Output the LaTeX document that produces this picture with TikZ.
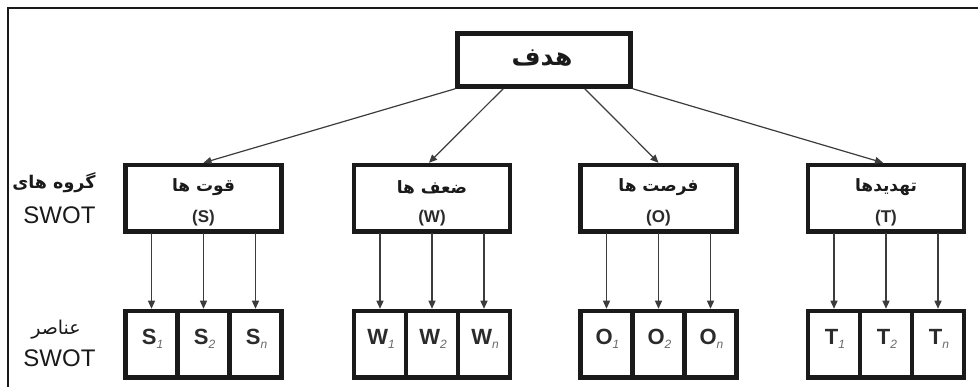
\documentclass[tikz,border=0pt]{standalone}
\usepackage{fontspec}
\setmainfont{Liberation Sans}
\newfontfamily\fa[Script=Arabic]{DejaVu Sans}
\TeXXeTstate=1
\usetikzlibrary{arrows.meta,calc}
\definecolor{ink}{HTML}{1A1A1A}
\definecolor{txt}{HTML}{2B2B2B}
\definecolor{sub}{HTML}{6A6A6A}
\tikzset{
  box/.style={draw=ink,line width=4.5pt,fill=white,inner sep=0pt,rectangle},
  topbox/.style={box,minimum width=173pt,minimum height=53pt},
  grpbox/.style={box,minimum width=156pt,minimum height=66pt},
  cellbox/.style={box,minimum width=52pt,minimum height=66pt},
  conn/.style={draw=ink!85,line width=1.2pt,-{Triangle[length=8pt,width=7pt]}},
  frameline/.style={draw=ink,line width=1.6pt},
  shadow/.style={draw=ink,line width=1.6pt},
}
\newcommand{\fatext}[1]{{\fa\beginR #1\endR}}
\newcommand{\elem}[2]{\textbf{#1}\raisebox{-4pt}{\color{sub}\fontsize{12}{12}\selectfont\itshape #2}}
\begin{document}
\begin{tikzpicture}[x=1pt,y=-1pt]
\useasboundingbox (0,0) rectangle (978,387);
\fill[white] (0,0) rectangle (978,387);
% frame
\coordinate (fTR) at (978,8);
\coordinate (fTL) at (8,8);
\coordinate (fBL) at (8,387);
\draw[frameline] (fTR) -- (fTL) -- (fBL);

% top box
\node[topbox] (top) at (544,60) {};
\draw[shadow] ([yshift=0.2pt]top.south west) -- ([yshift=0.2pt]top.south east);
\node[font=\fontsize{25}{25}\selectfont\bfseries,text=ink] at (542,58) {\fatext{هدف}};

% groups
\foreach \n/\cx/\fname/\ltr in {S/203.5/قوت ها/S, W/432/ضعف ها/W, O/658.5/فرصت ها/O, T/886/تهدیدها/T}{
  \node[grpbox] (g\n) at (\cx,198) {};
  \draw[shadow] ([yshift=0.2pt]g\n.south west) -- ([yshift=0.2pt]g\n.south east);
  \node[font=\fontsize{17}{17}\selectfont\bfseries,text=ink] at (\cx,187) {\fatext{\fname}};
  \node[font=\fontsize{17}{17}\selectfont\bfseries,text=txt] at (\cx,218) {(\ltr)};
  \node[cellbox] (c\n1) at ($(\cx,344)+(-52,0)$) {};
  \node[cellbox] (c\n2) at (\cx,344) {};
  \node[cellbox] (c\n3) at ($(\cx,344)+(52,0)$) {};
  \draw[shadow] ([yshift=0.2pt]c\n1.south west) -- ([yshift=0.2pt]c\n3.south east);
  \node[font=\fontsize{22}{22}\selectfont,text=txt] at ($(c\n1)+(1,-5)$) {\elem{\ltr}{1}};
  \node[font=\fontsize{22}{22}\selectfont,text=txt] at ($(c\n2)+(1,-5)$) {\elem{\ltr}{2}};
  \node[font=\fontsize{22}{22}\selectfont,text=txt] at ($(c\n3)+(1,-5)$) {\elem{\ltr}{n}};
  \foreach \k in {1,2,3}{
    \draw[conn] (c\n\k.north |- g\n.south) -- (c\n\k.north);
  }
}

% top arrows
\coordinate (a1) at (top.south west);
\coordinate (a2) at ($(top.south west)!0.27!(top.south east)$);
\coordinate (a3) at ($(top.south west)!0.73!(top.south east)$);
\coordinate (a4) at (top.south east);
\draw[conn] (a1) -- (gS.north);
\draw[conn] (a2) -- ([xshift=-3pt]gW.north);
\draw[conn] (a3) -- (gO.north);
\draw[conn] (a4) -- ([xshift=-3pt]gT.north);

% left labels
\node[anchor=east,font=\fontsize{17.5}{17.5}\selectfont\bfseries,text=ink] (lg1) at (99,183) {\fatext{گروه های}};
\node[anchor=east,font=\fontsize{24}{24}\selectfont,text=ink] (lg2) at (99,215.5) {SWOT};
\node[font=\fontsize{19}{19}\selectfont,text=ink] (le1) at (56,330) {\fatext{عناصر}};
\node[anchor=east,font=\fontsize{24}{24}\selectfont,text=ink] (le2) at (99,358.5) {SWOT};
\end{tikzpicture}
\end{document}
